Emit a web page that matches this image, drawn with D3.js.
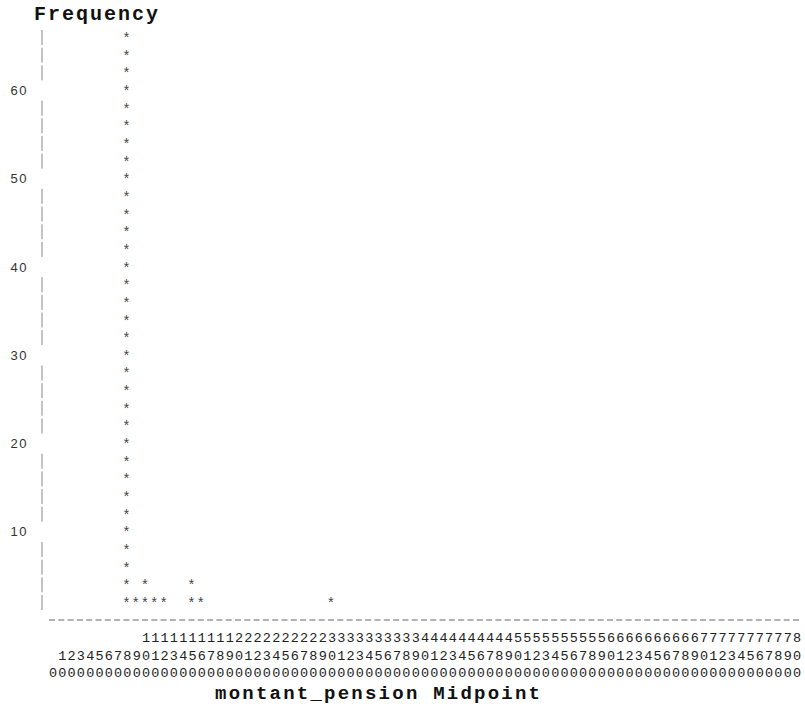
<!DOCTYPE html>
<html>
<head>
<meta charset="utf-8">
<title>montant_pension histogram</title>
<script src="https://d3js.org/d3.v7.min.js"></script>
<style>
  body { margin:0; background:#fff; }
  svg { display:block; }
  .mono { font-family:"Liberation Mono", "DejaVu Sans Mono", monospace; }
</style>
</head>
<body>
<div id="chart"></div>
<script>
// bar midpoints and their frequencies (one star = 2 units)
var midpoints   = [80, 90, 100, 110, 120, 150, 160, 300];
var frequencies = [66,  2,   4,   2,   2,   4,   2,   2];
var yTickLabels = [10, 20, 30, 40, 50, 60];
var xTicks = d3.range(0, 810, 10);   // every midpoint column printed under the axis
var rowLevels = d3.range(2, 68, 2);  // one text row every 2 units

const width = 805, height = 709;
const svg = d3.select("#chart").append("svg")
    .attr("width", width)
    .attr("height", height);

var xScale = d3.scaleLinear().domain([0, 800]).range([53, 797]);
var yScale = d3.scaleLinear().domain([2, 66]).range([600, 35]);

var data = midpoints.map((m, i) => ({mid: m, freq: frequencies[i]}));

// title
svg.append("text")
    .attr("class", "mono")
    .attr("x", 34).attr("y", 20)
    .attr("textLength", 124)
    .style("font-size", "20px").style("font-weight", "bold").style("fill", "#111")
    .text("Frequency");

// y axis: pipes on rows without a label
svg.selectAll(".pipe")
    .data(rowLevels.filter(l => yTickLabels.indexOf(l) < 0))
    .enter().append("line")
    .attr("class", "pipe")
    .attr("x1", 42).attr("x2", 42)
    .attr("y1", d => yScale(d) - 5)
    .attr("y2", d => yScale(d) + 10)
    .style("stroke", "#888").style("stroke-width", 1);

svg.selectAll(".ylab")
    .data(yTickLabels)
    .enter().append("text")
    .attr("class", "ylab")
    .attr("x", 28)
    .attr("y", d => yScale(d) + 7)
    .attr("text-anchor", "end")
    .style("font-family", "'Liberation Sans', Arial, sans-serif")
    .style("font-size", "13px").style("letter-spacing", "1.5px")
    .style("fill", "#333")
    .text(d => d);

// stars
data.forEach(function(d) {
  svg.selectAll(null)
      .data(d3.range(2, d.freq + 1, 2))
      .enter().append("text")
      .attr("class", "mono")
      .attr("x", xScale(d.mid) - 1)
      .attr("y", lv => yScale(lv) + 8)
      .attr("text-anchor", "middle")
      .style("font-size", "14px").style("fill", "#444")
      .text("*");
});

// dashed axis line
svg.selectAll(".dash")
    .data(xTicks)
    .enter().append("line")
    .attr("class", "dash")
    .attr("x1", d => xScale(d) - 4)
    .attr("x2", d => xScale(d) + 2)
    .attr("y1", 620).attr("y2", 620)
    .style("stroke", "#666").style("stroke-width", 1);

// vertical digit labels: hundreds, tens, units
var digitRows = [
  {y: 642, f: d => d >= 100 ? String(Math.floor(d / 100)) : ""},
  {y: 660, f: d => d >= 10 ? String(Math.floor(d / 10) % 10) : ""},
  {y: 677, f: d => String(d % 10)}
];
digitRows.forEach(function(r) {
  svg.selectAll(null)
      .data(xTicks)
      .enter().append("text")
      .attr("class", "mono")
      .attr("x", d => xScale(d))
      .attr("y", r.y)
      .attr("text-anchor", "middle")
      .style("font-size", "13.5px").style("fill", "#222")
      .text(r.f);
});

svg.append("text")
    .attr("class", "mono")
    .attr("x", 215).attr("y", 699)
    .attr("textLength", 325)
    .style("font-size", "19px").style("font-weight", "bold").style("fill", "#111")
    .text("montant_pension Midpoint");
</script>
</body>
</html>
